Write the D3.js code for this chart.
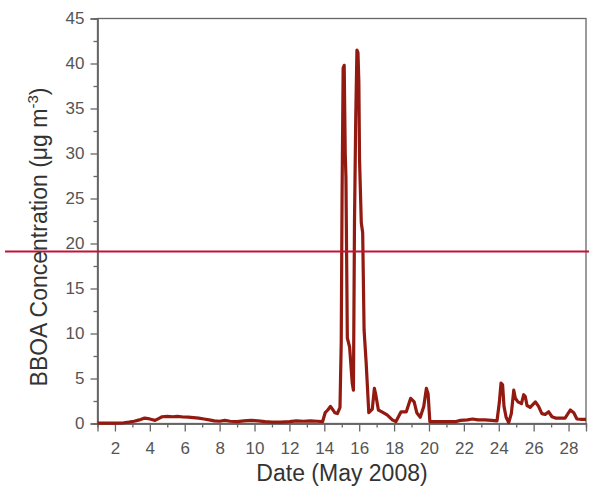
<!DOCTYPE html>
<html lang="en">
<head>
    <meta charset="UTF-8">
    <title>BBOA</title>
</head>
<style>
    body { margin: 0; background: #fff; }
    .axis path,
    .axis line {
        fill: none;
        stroke: #666;
        stroke-width: 1.3px;
    }
    .axis text {
        font-family: "Liberation Sans", Arial, sans-serif;
        font-size: 17px;
        fill: #555;
    }
    .label {
        font-family: "Liberation Sans", Arial, sans-serif;
        font-size: 23px;
        fill: #333;
    }
</style>
<body>
<svg class="chart"></svg>
<script src="https://cdn.jsdelivr.net/npm/d3@7/dist/d3.min.js"></script>
<script>
    // data
    var days = [1.0, 1.5, 2.0, 2.5, 2.8, 3.1, 3.4, 3.7, 3.9, 4.1, 4.3, 4.5, 4.7, 5.0, 5.3, 5.6, 5.9, 6.2, 6.5, 6.8,
        7.1, 7.4, 7.7, 8.0, 8.3, 8.6, 9.0, 9.4, 9.8, 10.2, 10.6, 11.0, 11.5, 12.0, 12.4, 12.8, 13.2, 13.6, 13.9,
        14.05, 14.2, 14.35, 14.5, 14.6, 14.75, 14.9, 14.97, 15.02, 15.08, 15.14, 15.2, 15.24, 15.32, 15.45, 15.6,
        15.67, 15.73, 15.8, 15.87, 15.93, 15.98, 16.02, 16.12, 16.2, 16.28, 16.4, 16.55, 16.75, 16.87, 16.95,
        17.1, 17.3, 17.6, 17.9, 18.1, 18.4, 18.7, 18.95, 19.15, 19.3, 19.5, 19.7, 19.85, 19.95, 20.05, 20.5,
        21.0, 21.5, 21.8, 22.2, 22.5, 22.8, 23.2, 23.6, 23.9, 24.03, 24.13, 24.22, 24.3, 24.42, 24.57, 24.72,
        24.86, 24.95, 25.1, 25.3, 25.43, 25.52, 25.62, 25.8, 26.1, 26.28, 26.47, 26.66, 26.86, 27.05, 27.25,
        27.8, 28.1, 28.3, 28.48, 28.76, 29.0]
    var bboa = [0.05, 0.05, 0.05, 0.08, 0.15, 0.25, 0.4, 0.6, 0.55, 0.45, 0.35, 0.55, 0.75, 0.8, 0.75, 0.8, 0.72, 0.7, 0.65, 0.6,
        0.5, 0.4, 0.3, 0.25, 0.35, 0.25, 0.2, 0.3, 0.35, 0.3, 0.2, 0.15, 0.15, 0.2, 0.3, 0.25, 0.3, 0.25, 0.2,
        1.2, 1.5, 1.9, 1.5, 1.2, 1.1, 1.8, 9.0, 25.8, 39.5, 39.8, 30, 27.4, 9.5, 8.5, 4.5,
        3.7, 22.3, 33.7, 41.5, 41.2, 38, 29.3, 22.3, 21.2, 10.4, 6.7, 1.2, 1.6, 3.9, 3.2,
        1.5, 1.3, 0.95, 0.4, 0.2, 1.3, 1.3, 2.8, 2.4, 1.2, 0.7, 1.9, 3.9, 3.3, 0.2, 0.2,
        0.2, 0.2, 0.35, 0.4, 0.5, 0.4, 0.4, 0.35, 0.3, 2.3, 4.5, 4.3, 1.9, 0.7, 0.1, 1.1,
        3.7, 2.8, 2.4, 2.2, 3.2, 3.0, 2.0, 1.8, 2.4, 1.9, 1.1, 1.0, 1.3, 0.75, 0.6,
        0.6, 1.5, 1.2, 0.5, 0.45, 0.45]
    var xTicks = [2, 4, 6, 8, 10, 12, 14, 16, 18, 20, 22, 24, 26, 28]
    var xMinor = [3, 5, 7, 9, 11, 13, 15, 17, 19, 21, 23, 25, 27]
    var yTicks = [0, 5, 10, 15, 20, 25, 30, 35, 40, 45]
    var yMinor = [2.5, 7.5, 12.5, 17.5, 22.5, 27.5, 32.5, 37.5, 42.5]
    var refLevel = 19.1

    var W = 589, H = 497
    var svg = d3.select('.chart').attr('width', W).attr('height', H)

    var xScale = d3.scaleLinear().domain([1, 29]).range([97.5, 586])
    var yScale = d3.scaleLinear().domain([0, 45]).range([423.5, 18.5])

    // box
    svg.append('rect')
        .attr('x', xScale(1)).attr('y', yScale(45))
        .attr('width', xScale(29) - xScale(1)).attr('height', yScale(0) - yScale(45))
        .attr('fill', 'none').attr('stroke', '#666').attr('stroke-width', 1.3)

    // minor ticks
    svg.append('g').attr('class', 'axis')
        .attr('transform', 'translate(0,' + yScale(0) + ')')
        .call(d3.axisBottom(xScale).tickValues(xMinor).tickSize(4).tickFormat(''))
    svg.append('g').attr('class', 'axis')
        .attr('transform', 'translate(' + xScale(1) + ',0)')
        .call(d3.axisLeft(yScale).tickValues(yMinor).tickSize(4).tickFormat(''))

    // major axes
    svg.append('g').attr('class', 'axis')
        .attr('transform', 'translate(0,' + yScale(0) + ')')
        .call(d3.axisBottom(xScale).tickValues(xTicks).tickSize(8).tickPadding(10))
    svg.append('g').attr('class', 'axis')
        .attr('transform', 'translate(' + xScale(1) + ',0)')
        .call(d3.axisLeft(yScale).tickValues(yTicks).tickSize(7).tickPadding(6))

    // series
    var pts = days.map(function (d, i) { return [d, bboa[i]] })
    var line = d3.line()
        .x(function (d) { return xScale(d[0]) })
        .y(function (d) { return yScale(d[1]) })
    svg.append('path')
        .datum(pts)
        .attr('d', line)
        .attr('fill', 'none')
        .attr('stroke', '#931a10')
        .attr('stroke-width', 3.2)
        .attr('stroke-linejoin', 'round')

    // horizontal marker line
    svg.append('line')
        .attr('x1', 5).attr('x2', W)
        .attr('y1', yScale(refLevel)).attr('y2', yScale(refLevel))
        .attr('stroke', '#c41236').attr('stroke-width', 2)

    // labels
    svg.append('text').attr('class', 'label')
        .attr('x', 342).attr('y', 481)
        .attr('text-anchor', 'middle')
        .text('Date (May 2008)')

    var yl = svg.append('text').attr('class', 'label')
        .attr('transform', 'translate(47,237) rotate(-90)')
        .attr('text-anchor', 'middle')
    yl.append('tspan').text('BBOA Concentration (μg m')
    yl.append('tspan').attr('dy', -9).style('font-size', '15px').text('-3')
    yl.append('tspan').attr('dy', 9).text(')')
</script>
</body>
</html>
